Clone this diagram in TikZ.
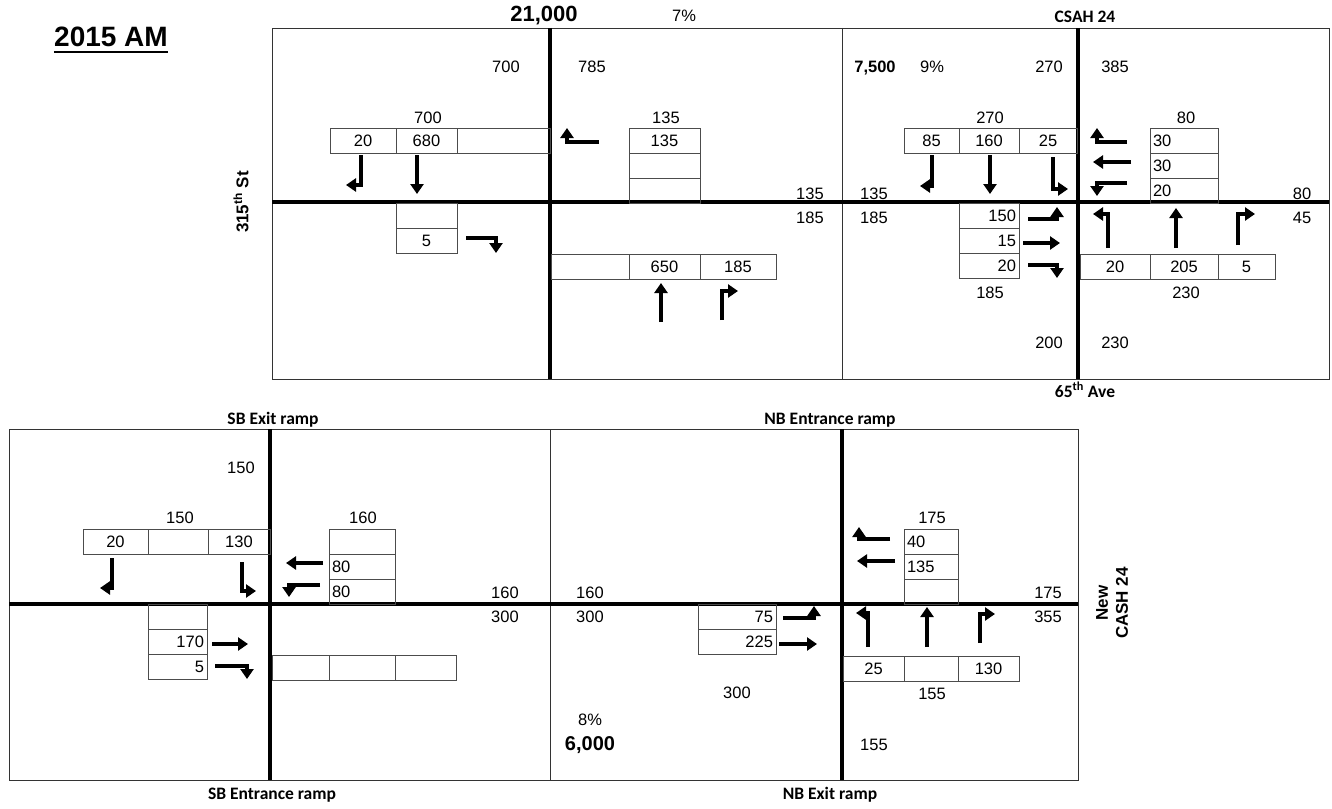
\documentclass[tikz,border=0pt]{standalone}
\usepackage{fontspec}
\setmainfont{Liberation Sans}
\newfontfamily\rampfont{Carlito}
\usetikzlibrary{arrows.meta, positioning}
\newcommand{\volfont}{\fontsize{16.5}{19.8}\selectfont}

\begin{document}
\begin{tikzpicture}[
    x=1pt, y=-1pt,
    vol/.style={font=\volfont, inner sep=0pt, anchor=base},
    cell/.style={draw=black!70, line width=0.7pt, outer sep=0pt,
                 minimum height=25pt, inner xsep=3pt, inner ysep=0pt,
                 text width=#1, align=center, font=\volfont},
    frame/.style={draw=black!80, line width=0.8pt},
    road/.style={line width=3.2pt},
    mv/.style={line width=3.2pt, -{Triangle[width=13pt,length=10pt]}},
    ramp/.style={font=\rampfont\bfseries\fontsize{17.5}{20}\selectfont,
                 inner sep=0pt, anchor=base},
    street/.style={font=\bfseries\fontsize{17}{20}\selectfont,
                   inner sep=0pt, rotate=90, align=center}
  ]
  \useasboundingbox (0,0) rectangle (1332,808);

  % frames and roads
  \draw[frame] (272,28) rectangle (1329,379);
  \draw[frame] (842,28) -- (842,379);
  \draw[frame] (9,429) rectangle (1078,780);
  \draw[frame] (550,429) -- (550,780);
  \draw[road] (272,202) -- (1329,202);
  \draw[road] (550,28) -- (550,379);
  \draw[road] (1078,28) -- (1078,379);
  \draw[road] (9,604) -- (1078,604);
  \draw[road] (270,429) -- (270,780);
  \draw[road] (842,429) -- (842,780);

  % titles and street names
  \node[font=\bfseries\fontsize{28}{32}\selectfont, inner sep=0pt, anchor=base]
    (am) at (111,47) {2015 AM};
  \draw[line width=2.2pt] (am.south west) ++(0,4.5) coordinate (ul) -- (ul -| am.east);
  \node[font=\bfseries\fontsize{22}{26}\selectfont, inner sep=0pt, anchor=base]
    (adtA) at (544,22) {21,000};
  \node[font=\bfseries\volfont, inner sep=0pt, anchor=base] (adtB) at (875,73) {7,500};
  \node[font=\bfseries\fontsize{20}{24}\selectfont, inner sep=0pt, anchor=base]
    (adtD) at (590,750) {6,000};
  \node[ramp] (csah) at (1085,23) {CSAH 24};
  \node[ramp] (ave) at (1085,397) {65\textsuperscript{th} Ave};
  \node[ramp] (sbx) at (273,424) {SB Exit ramp};
  \node[ramp] (nbe) at (830,424) {NB Entrance ramp};
  \node[ramp] (sbe) at (272,799) {SB Entrance ramp};
  \node[ramp] (nbx) at (830,799) {NB Exit ramp};
  \node[street] (st315) at (241,202) {315\textsuperscript{th} St};
  \node[street] (newcsah) at (1112,603) {New\\CASH 24};

  % volumes
  \foreach \x/\y/\t [count=\i] in {684/22/7\%, 506/73/700, 592/73/785, 932/73/9\%,
      1049/73/270, 1115/73/385, 428/123/700, 666/123/135, 990/123/270, 1186/123/80,
      810/199/135, 810/223/185, 874/199/135, 874/223/185, 1302/199/80, 1302/223/45,
      990/298/185, 1186/298/230, 1049/348/200, 1115/348/230,
      241/473/150, 180/523/150, 363/523/160, 932/523/175,
      505/598/160, 505/622/300, 590/598/160, 590/622/300, 1048/598/175, 1048/622/355,
      737/698/300, 932/699/155, 590/725/8\%, 874/750/155}
    \node[vol] (v\i) at (\x,\y) {\t};

  % 315th St
  \node[cell=60pt, anchor=north west] (aS1) at (330,128) {20};
  \node[cell=55pt, right=0pt of aS1] (aS2) {680};
  \node[cell=87pt, right=0pt of aS2] (aS3) {};
  \foreach \v [count=\i] in {{},5}
    \node[cell=55pt, anchor=north west] (aE\i) at (396,{203+25*(\i-1)}) {\v};
  \foreach \v [count=\i] in {135,{},{}}
    \node[cell=65pt, anchor=north west] (aW\i) at (629,{128+25*(\i-1)}) {\v};
  \node[cell=72pt, anchor=north west] (aN1) at (551,254) {};
  \node[cell=65pt, right=0pt of aN1] (aN2) {650};
  \node[cell=70pt, right=0pt of aN2] (aN3) {185};
  \draw[mv] (361,155) -- (361,185) -- (346,185);
  \draw[mv] (417,155) -- (417,194);
  \draw[mv] (466,238) -- (496,238) -- (496,253);
  \draw[mv] (599,142) -- (567,142) -- (567,128);
  \draw[mv] (661,322) -- (661,283);
  \draw[mv] (722,320) -- (722,291) -- (738,291);

  % CSAH 24 / 65th Ave
  \node[cell=49pt, anchor=north west] (bS1) at (904,128) {85};
  \node[cell=54pt, right=0pt of bS1] (bS2) {160};
  \node[cell=52pt, right=0pt of bS2] (bS3) {25};
  \foreach \v [count=\i] in {30,30,20}
    \node[cell=62pt, align=left, anchor=north west] (bW\i) at (1150,{128+25*(\i-1)}) {\v};
  \foreach \v [count=\i] in {150,15,20}
    \node[cell=54pt, align=right, anchor=north west] (bE\i) at (959,{203+25*(\i-1)}) {\v};
  \node[cell=64pt, anchor=north west] (bN1) at (1080,254) {20};
  \node[cell=62pt, right=0pt of bN1] (bN2) {205};
  \node[cell=51pt, right=0pt of bN2] (bN3) {5};
  \draw[mv] (932,155) -- (932,186) -- (920,186);
  \draw[mv] (990,155) -- (990,194);
  \draw[mv] (1053,157) -- (1053,189) -- (1068,189);
  \draw[mv] (1127,142) -- (1097,142) -- (1097,128);
  \draw[mv] (1131,162) -- (1093,162);
  \draw[mv] (1127,183) -- (1097,183) -- (1097,196);
  \draw[mv] (1028,219) -- (1057,219) -- (1057,207);
  \draw[mv] (1023,243) -- (1060,243);
  \draw[mv] (1028,265) -- (1057,265) -- (1057,278);
  \draw[mv] (1108,248) -- (1108,214) -- (1093,214);
  \draw[mv] (1176,248) -- (1176,208);
  \draw[mv] (1238,245) -- (1238,214) -- (1255,214);

  % SB ramps
  \node[cell=59pt, anchor=north west] (cS1) at (83,529) {20};
  \node[cell=54pt, right=0pt of cS1] (cS2) {};
  \node[cell=56pt, right=0pt of cS2] (cS3) {130};
  \foreach \v [count=\i] in {{},80,80}
    \node[cell=60pt, align=left, anchor=north west] (cW\i) at (329,{529+25*(\i-1)}) {\v};
  \foreach \v [count=\i] in {{},170,5}
    \node[cell=53pt, align=right, anchor=north west] (cE\i) at (148,{604+25*(\i-1)}) {\v};
  \node[cell=51pt, anchor=north west] (cN1) at (272,655) {};
  \node[cell=60pt, right=0pt of cN1] (cN2) {};
  \node[cell=55pt, right=0pt of cN2] (cN3) {};
  \draw[mv] (112,558) -- (112,588) -- (100,588);
  \draw[mv] (242,562) -- (242,591) -- (256,591);
  \draw[mv] (323,563) -- (286,563);
  \draw[mv] (320,585) -- (289,585) -- (289,597);
  \draw[mv] (212,644) -- (248,644);
  \draw[mv] (215,666) -- (247,666) -- (247,679);

  % NB ramps
  \foreach \v [count=\i] in {75,225}
    \node[cell=72pt, align=right, anchor=north west] (dE\i) at (698,{604+25*(\i-1)}) {\v};
  \foreach \v [count=\i] in {40,135,{}}
    \node[cell=48pt, align=left, anchor=north west] (dW\i) at (904,{529+25*(\i-1)}) {\v};
  \node[cell=55pt, anchor=north west] (dN1) at (843,656) {25};
  \node[cell=48pt, right=0pt of dN1] (dN2) {};
  \node[cell=55pt, right=0pt of dN2] (dN3) {130};
  \draw[mv] (783,618) -- (814,618) -- (814,606);
  \draw[mv] (779,644) -- (817,644);
  \draw[mv] (890,539) -- (859,539) -- (859,527);
  \draw[mv] (895,561) -- (857,561);
  \draw[mv] (868,647) -- (868,613) -- (856,613);
  \draw[mv] (927,647) -- (927,607);
  \draw[mv] (980,643) -- (980,614) -- (995,614);
\end{tikzpicture}
\end{document}
